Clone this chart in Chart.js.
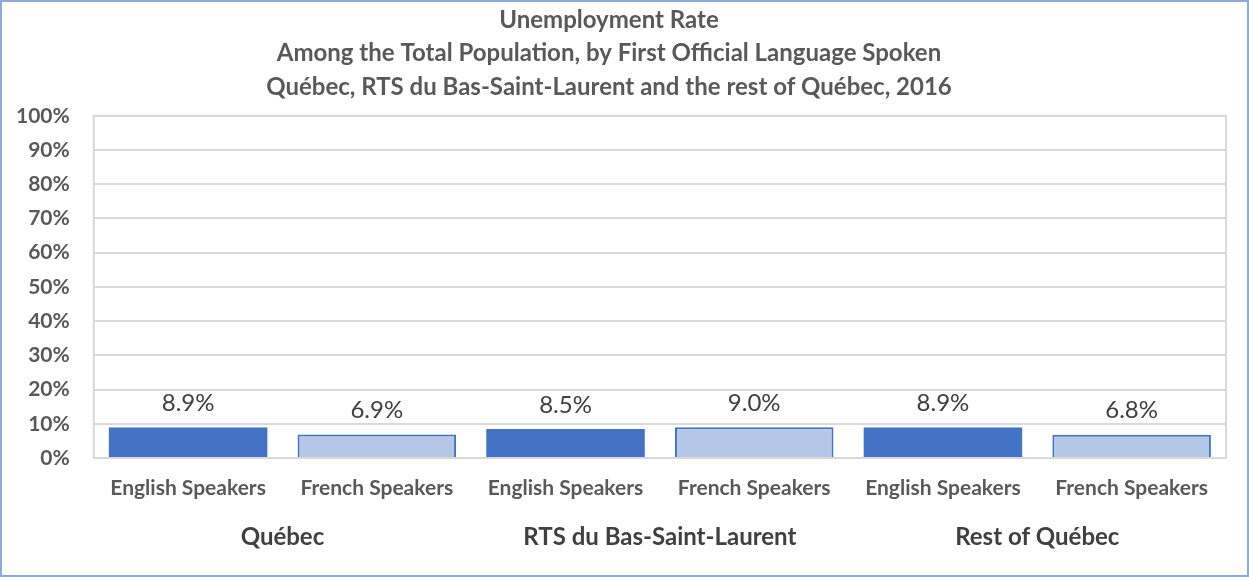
<!DOCTYPE html>
<html>
<head>
<meta charset="utf-8">
<script src="https://cdn.jsdelivr.net/npm/chart.js@4/dist/chart.umd.min.js"></script>
<style>
  html, body { margin: 0; padding: 0; background: #fff; }
  #wrap { width: 1249px; height: 577px; box-sizing: border-box; border: 2px solid #8eaadb; }
</style>
</head>
<body>
<div id="wrap"><canvas id="chart" width="1245" height="573"></canvas></div>
<script>
  const categories = ["English Speakers", "French Speakers", "English Speakers", "French Speakers", "English Speakers", "French Speakers"];
  const regions = ["Québec", "RTS du Bas-Saint-Laurent", "Rest of Québec"];
  const rates = [8.9, 6.9, 8.5, 9.0, 8.9, 6.8];
  const titleLines = [
    "Unemployment Rate",
    "Among the Total Population, by First Official Language Spoken",
    "Québec, RTS du Bas-Saint-Laurent and the rest of Québec, 2016"
  ];

  const FONT = "Lato, 'Open Sans', sans-serif";
  const dark = "#4472c4";
  const light = "#b4c7e7";

  // values above bars + frame around the plot
  const extras = {
    id: "extras",
    afterDatasetsDraw(chart) {
      const ctx = chart.ctx;
      const a = chart.chartArea;
      ctx.save();
      ctx.strokeStyle = "#d9d9d9";
      ctx.lineWidth = 2;
      ctx.strokeRect(a.left, a.top, a.right - a.left, a.bottom - a.top);
      const meta = chart.getDatasetMeta(0);
      ctx.font = "24px " + FONT;
      ctx.fillStyle = "#404040";
      ctx.textAlign = "center";
      ctx.textBaseline = "bottom";
      meta.data.forEach((bar, i) => {
        ctx.fillText(rates[i].toFixed(1) + "%", bar.x, bar.y - 12);
      });
      ctx.restore();
    }
  };

  new Chart(document.getElementById("chart").getContext("2d"), {
    type: "bar",
    data: {
      labels: categories,
      datasets: [{
        data: rates,
        backgroundColor: rates.map((v, i) => i % 2 === 0 ? dark : light),
        borderColor: dark,
        borderWidth: rates.map((v, i) => i % 2 === 0 ? 0 : 2),
        barPercentage: 0.84,
        categoryPercentage: 1
      }]
    },
    options: {
      responsive: false,
      animation: false,
      layout: { padding: { left: -10, right: 21, top: 1, bottom: 19 } },
      plugins: {
        legend: { display: false },
        tooltip: { enabled: false },
        title: {
          display: true,
          text: titleLines,
          color: "#595959",
          font: { family: FONT, size: 24, weight: "bold", lineHeight: 1.4 },
          padding: { top: 0, bottom: 12 }
        }
      },
      scales: {
        x: {
          grid: { display: false, drawTicks: false },
          border: { display: false },
          ticks: { color: "#595959", font: { family: FONT, size: 21, weight: "bold" }, padding: 18, maxRotation: 0, autoSkip: false }
        },
        x2: {
          type: "category",
          labels: regions,
          position: "bottom",
          offset: true,
          grid: { display: false, drawTicks: false },
          border: { display: false },
          ticks: { color: "#404040", font: { family: FONT, size: 24, weight: "bold" }, padding: 4, maxRotation: 0, autoSkip: false }
        },
        y: {
          min: 0,
          max: 100,
          ticks: {
            stepSize: 10,
            color: "#595959",
            font: { family: FONT, size: 21, weight: "bold" },
            padding: 24,
            callback: v => v + "%"
          },
          grid: { color: "#d9d9d9", lineWidth: 2, drawTicks: false },
          border: { display: false }
        }
      }
    },
    plugins: [extras]
  });
</script>
</body>
</html>
